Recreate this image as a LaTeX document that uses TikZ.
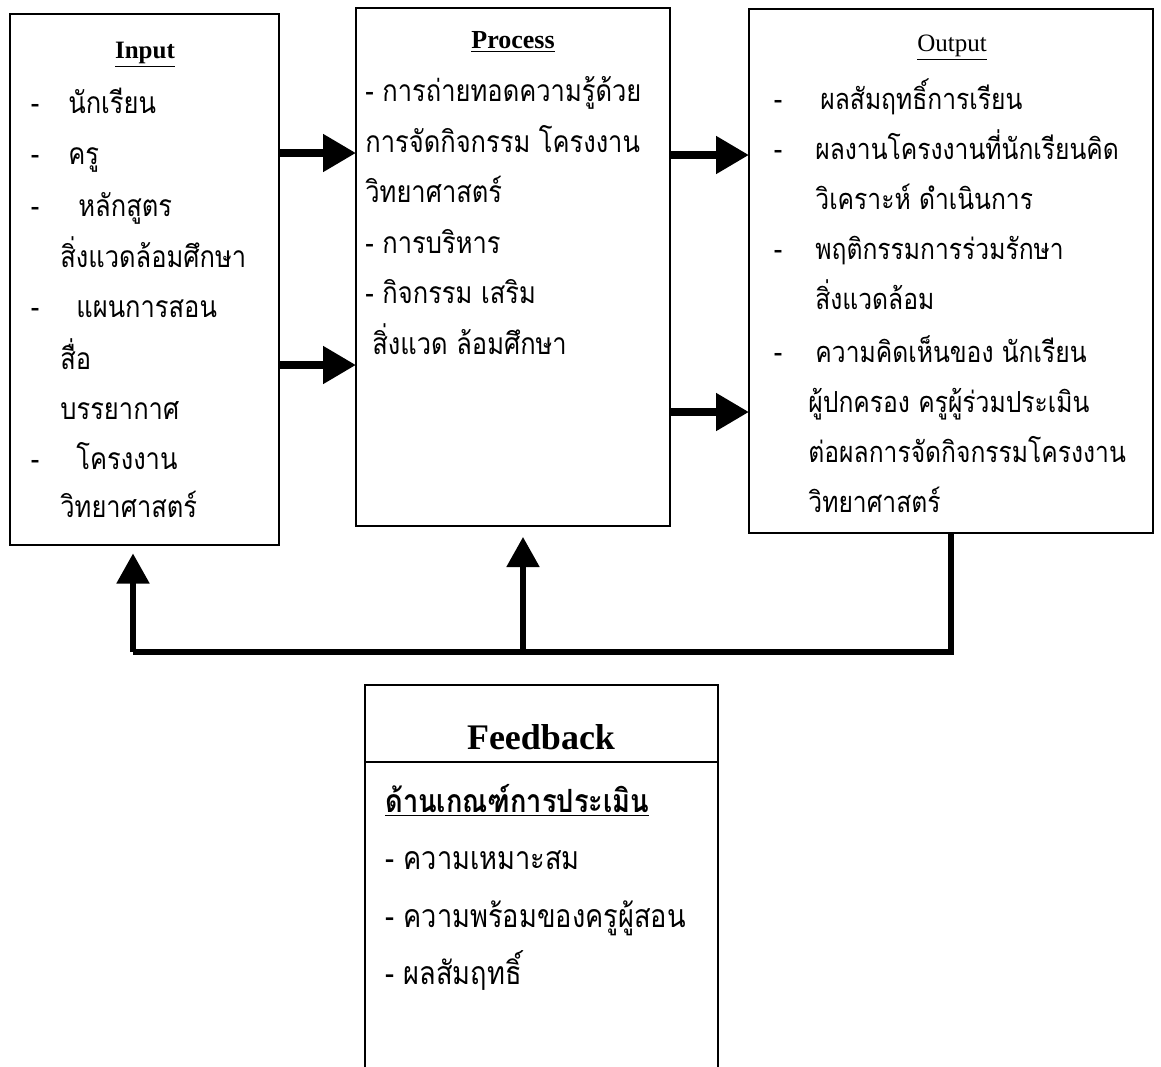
\documentclass[tikz,border=0pt]{standalone}
\usepackage{fontspec}
\setmainfont{Liberation Serif}
\newfontfamily\thai[Script=Thai,FakeStretch=0.85]{Loma}
\usetikzlibrary{arrows.meta}
\begin{document}
\begin{tikzpicture}[x=0.5pt,y=-0.5pt,
  box/.style={draw,line width=1pt,inner sep=0pt,outer sep=0pt},
  th/.style={font=\thai\fontsize{15}{18}\selectfont,inner sep=0pt,anchor=base west},
  tho/.style={th,font=\thai\fontsize{14.5}{18}\selectfont},
  thf/.style={th,font=\thai\fontsize{16}{18}\selectfont},
  dsh/.style={font=\thai\fontsize{15}{18}\selectfont,inner sep=0pt,anchor=base},
  harr/.style={line width=4pt,-{Triangle[length=16.5pt,width=18pt]}},
  floop/.style={line width=2.6pt,line join=miter},
  farr/.style={line width=2.6pt,-{Triangle[length=15pt,width=16pt]}}]
\useasboundingbox (0,0) rectangle (1161,1066);
\clip (0,0) rectangle (1161,1066);
% boxes
\node[box,minimum width=134.5pt,minimum height=265.5pt] (inp) at (144.5,279) {};
\node[box,minimum width=157pt,minimum height=259pt] (proc) at (513,267) {};
\node[box,minimum width=202pt,minimum height=262pt] (out) at (951,271) {};
\node[box,minimum width=176.5pt,minimum height=200pt] (fb) at (541.5,885) {};
\draw[line width=1pt] (fb.west |- 0,762) -- (fb.east |- 0,762);
% Input texts
\node[font=\bfseries\fontsize{12.5}{15}\selectfont,inner sep=0pt] (ti) at (145,55) {\underline{Input}};
\node[dsh] (d1) at (35,113) {-};
\node[th] (a1) at (68,113) {นักเรียน};
\node[dsh] (d2) at (35,164) {-};
\node[th] (a2) at (68,164) {ครู};
\node[dsh] (d3) at (35,216) {-};
\node[th] (a3) at (78,216) {หลักสูตร};
\node[th] (a4) at (60,267) {สิ่งแวดล้อมศึกษา};
\node[dsh] (d5) at (35,317) {-};
\node[th] (a5) at (76,317) {แผนการสอน};
\node[th] (a6) at (60,369) {สื่อ};
\node[th] (a7) at (60,419) {บรรยากาศ};
\node[dsh] (d8) at (35,469) {-};
\node[th] (a8) at (76,469) {โครงงาน};
\node[th] (a9) at (60,517) {วิทยาศาสตร์};
% Process texts
\node[font=\bfseries\fontsize{13}{15}\selectfont,inner sep=0pt] (tp) at (513,42) {\underline{Process}};
\node[th] (p1) at (365,101) {- การถ่ายทอดความรู้ด้วย};
\node[th] (p2) at (365,152) {การจัดกิจกรรม โครงงาน};
\node[th] (p3) at (365,202) {วิทยาศาสตร์};
\node[th] (p4) at (365,253) {- การบริหาร};
\node[th] (p5) at (365,303) {- กิจกรรม เสริม};
\node[th] (p6) at (372,354) {สิ่งแวด ล้อมศึกษา};
% Output texts
\node[font=\fontsize{12.5}{15}\selectfont,inner sep=0pt] (to) at (952,48) {\underline{Output}};
\node[dsh] (e1) at (778,109) {-};
\node[tho] (o1) at (820,109) {ผลสัมฤทธิ์การเรียน};
\node[dsh] (e2) at (778,159) {-};
\node[tho] (o2) at (815,159) {ผลงานโครงงานที่นักเรียนคิด};
\node[tho] (o3) at (815,209) {วิเคราะห์ ดำเนินการ};
\node[dsh] (e4) at (778,259) {-};
\node[tho] (o4) at (815,259) {พฤติกรรมการร่วมรักษา};
\node[tho] (o5) at (815,309) {สิ่งแวดล้อม};
\node[dsh] (e6) at (778,362) {-};
\node[tho] (o6) at (815,362) {ความคิดเห็นของ นักเรียน};
\node[tho] (o7) at (808,412) {ผู้ปกครอง ครูผู้ร่วมประเมิน};
\node[tho] (o8) at (808,462) {ต่อผลการจัดกิจกรรมโครงงาน};
\node[tho] (o9) at (808,512) {วิทยาศาสตร์};
% Feedback texts
\node[font=\bfseries\fontsize{18}{20}\selectfont,inner sep=0pt] (tf) at (541,737) {Feedback};
\node[thf,font=\thai\bfseries\fontsize{16}{18}\selectfont] (f1) at (385,812) {\underline{ด้านเกณฑ์การประเมิน}};
\node[thf] (f2) at (385,869) {- ความเหมาะสม};
\node[thf] (f3) at (385,927) {- ความพร้อมของครูผู้สอน};
\node[thf] (f4) at (385,984) {- ผลสัมฤทธิ์};
% arrows
\draw[harr] (inp.east |- 0,153) -- (proc.west |- 0,153);
\draw[harr] (inp.east |- 0,365) -- (proc.west |- 0,365);
\draw[harr] (proc.east |- 0,155) -- (out.west |- 0,155);
\draw[harr] (proc.east |- 0,412) -- (out.west |- 0,412);
% feedback loop
\coordinate (cl) at (133,652);
\coordinate (cm) at (523,652);
\draw[floop] (out.south) -- (out.south |- cl) -- (cl);
\draw[farr] (cl) -- ([yshift=-4.5pt]cl |- inp.south);
\draw[farr] (cm) -- ([yshift=-5.5pt]cm |- proc.south);
\end{tikzpicture}
\end{document}
